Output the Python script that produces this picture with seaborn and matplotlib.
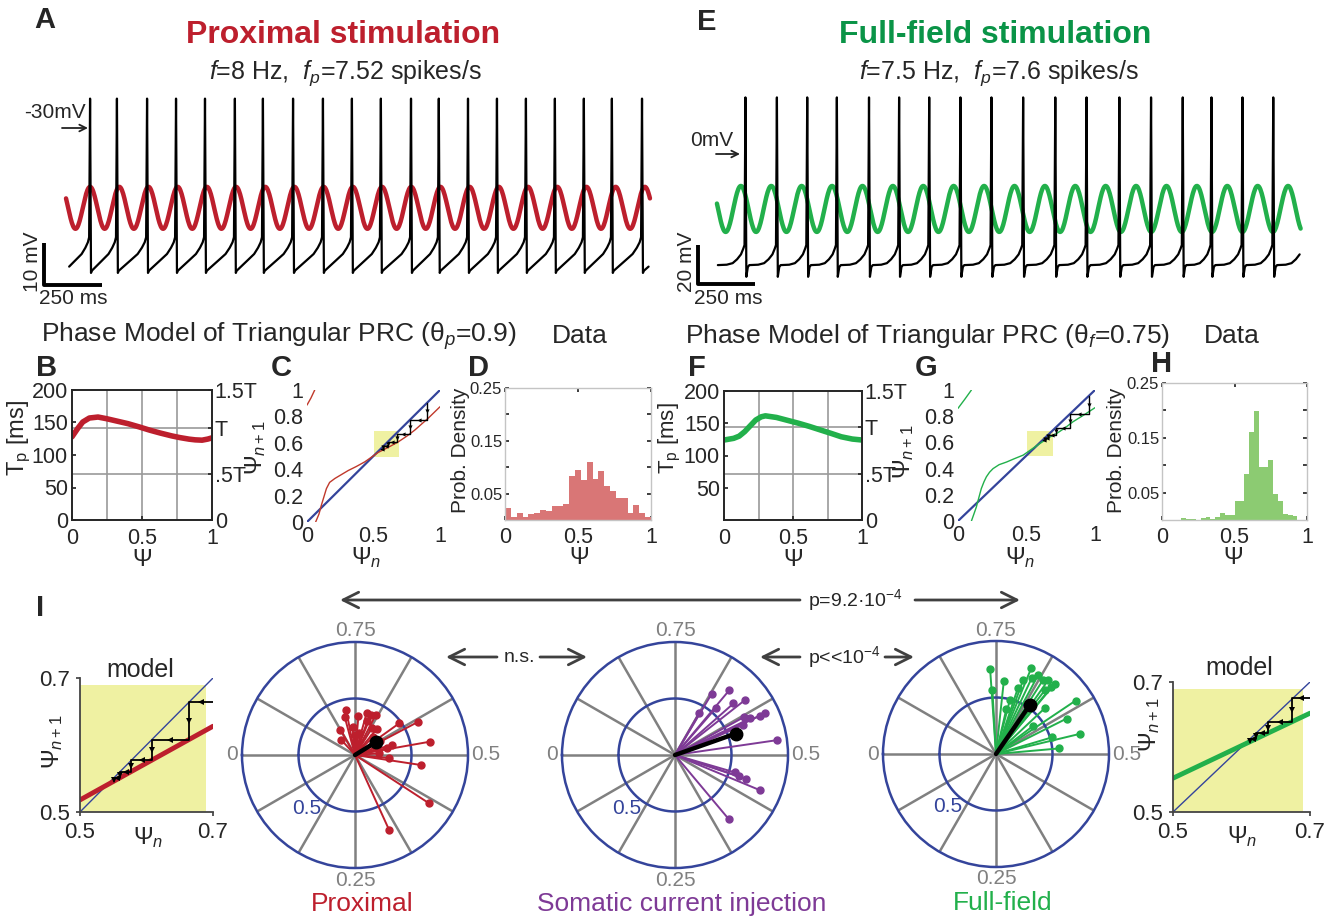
import numpy as np
import pandas as pd
import seaborn as sns
import matplotlib.pyplot as plt
from matplotlib.patches import Rectangle

sns.set_theme(style="white")
plt.rcParams['font.family'] = ['Liberation Sans', 'DejaVu Sans']
plt.rcParams['mathtext.fontset'] = 'custom'
plt.rcParams['mathtext.rm'] = 'Liberation Sans'
plt.rcParams['mathtext.it'] = 'Liberation Sans:italic'
plt.rcParams['mathtext.bf'] = 'Liberation Sans:bold'

RED = '#bd1f2d'
RED_HIST = '#d97676'
GREEN_T = '#0a9447'
GREEN = '#22b04b'
GREEN_HIST = '#8ccb72'
PURPLE = '#7e3a96'
BLUE = '#34449b'
YELLOW = '#eff1a2'
GRAY = '#808080'

# ---- A: proximal stimulation trace (s, mV)
a_spike_t = [0.103, 0.218, 0.347, 0.471, 0.595, 0.723, 0.843, 0.972, 1.100, 1.224,
             1.348, 1.477, 1.596, 1.721, 1.845, 1.969, 2.093, 2.217, 2.337, 2.466]
a_t_end = 2.5
a_peak = -23.0
a_isi_phase = [0.0, 0.03, 0.2, 0.45, 0.7, 0.85, 0.95, 1.0]
a_isi_v = [-64.5, -64.0, -63.0, -61.5, -60.0, -58.5, -57.2, -56.0]
a_stim_f, a_stim_center, a_stim_amp, a_stim_peak = 8.0, -49.0, 5.0, 0.103

# ---- E: full-field stimulation trace
e_spike_t = [0.125, 0.263, 0.396, 0.526, 0.667, 0.799, 0.931, 1.068, 1.204, 1.343,
             1.484, 1.621, 1.765, 1.904, 2.043, 2.169, 2.305, 2.440]
e_t_end = 2.56
e_peak = 29.0
e_isi_phase = [0.0, 0.05, 0.1, 0.4, 0.6, 0.75, 0.88, 0.96, 1.0]
e_isi_v = [-63.0, -58.0, -57.0, -56.8, -56.0, -54.0, -51.5, -48.5, -46.7]
e_stim_f, e_stim_center, e_stim_amp, e_stim_peak = 7.5, -28.2, 11.8, 0.105

# ---- B / F: period vs phase
b_psi = [0.0, 0.04, 0.077, 0.124, 0.186, 0.248, 0.32, 0.40, 0.48, 0.557, 0.63, 0.712, 0.77, 0.836, 0.88, 0.929, 0.97, 1.0]
b_tp = [128, 140.6, 150.8, 156.9, 158.4, 155.8, 152.2, 148.2, 143.2, 138.1, 133.8, 129.4, 126.8, 124.4, 123.3, 122.8, 124.5, 126.4]
b_T = 142
f_psi = [0.0, 0.07, 0.11, 0.15, 0.19, 0.23, 0.27, 0.30, 0.38, 0.46, 0.54, 0.62, 0.70, 0.78, 0.85, 0.93, 1.0]
f_tp = [124, 126.6, 130, 137, 146, 155, 160, 161.5, 159, 154.5, 150, 145, 139.5, 134, 129, 125.5, 124]
f_T = 144

# ---- C / G: return maps
c_main_x = [0.065, 0.09, 0.108, 0.13, 0.146, 0.17, 0.21, 0.26, 0.31, 0.37, 0.435, 0.535, 0.61, 0.686, 0.75, 0.81, 0.91, 1.0]
c_main_y = [0.0, 0.06, 0.127, 0.2, 0.253, 0.30, 0.33, 0.36, 0.39, 0.42, 0.456, 0.527, 0.565, 0.607, 0.65, 0.696, 0.785, 0.873]
c_wrap_x = [0.0, 0.03, 0.058]
c_wrap_y = [0.886, 0.94, 1.0]
c_web_x = [0.905, 0.905, 0.774, 0.774, 0.673, 0.673, 0.608, 0.608, 0.575, 0.575, 0.555]
c_web_y = [0.905, 0.772, 0.772, 0.67, 0.67, 0.608, 0.608, 0.575, 0.575, 0.555, 0.555]
g_main_x = [0.098, 0.115, 0.134, 0.15, 0.17, 0.19, 0.207, 0.23, 0.256, 0.30, 0.354, 0.41, 0.476, 0.54, 0.61, 0.66, 0.72, 0.78, 0.84, 0.92, 1.0]
g_main_y = [0.0, 0.05, 0.107, 0.17, 0.247, 0.30, 0.337, 0.372, 0.40, 0.43, 0.45, 0.475, 0.503, 0.55, 0.60, 0.635, 0.668, 0.71, 0.758, 0.81, 0.865]
g_wrap_x = [0.0, 0.05, 0.098]
g_wrap_y = [0.86, 0.93, 1.0]
g_web_x = [0.956, 0.956, 0.816, 0.816, 0.713, 0.713, 0.66, 0.66, 0.632, 0.632, 0.618]
g_web_y = [0.956, 0.815, 0.815, 0.713, 0.713, 0.66, 0.66, 0.632, 0.632, 0.618, 0.618]
map_box_x, map_box_y = (0.5, 0.695), (0.495, 0.69)
box_lo, box_hi = 0.5, 0.69

# ---- D / H: phase histograms (probability per bin)
d_heights = [0.0225, 0.0056, 0.0138, 0.006, 0.0106, 0.013, 0.019, 0.0175, 0.026, 0.026,
             0.031, 0.083, 0.094, 0.076, 0.110, 0.078, 0.092, 0.065, 0.054, 0.0425,
             0.0425, 0.013, 0.029, 0.014, 0.006]
h_heights = [0, 0, 0, 0, 0.003, 0.002, 0.001, 0, 0.003, 0.0055,
             0.002, 0.0055, 0.013, 0.0097, 0.0097, 0.034, 0.034, 0.084, 0.161, 0.199,
             0.096, 0.096, 0.110, 0.048, 0.034, 0.0115, 0.0097, 0.008, 0, 0]

# ---- I: insets (linearised map near fixed point)
il_x, il_y = [0.5, 0.7], [0.518, 0.628]
il_web_x = [0.7, 0.664, 0.664, 0.608, 0.608, 0.577, 0.577, 0.560, 0.560, 0.551, 0.551]
il_web_y = [0.664, 0.664, 0.608, 0.608, 0.577, 0.577, 0.560, 0.560, 0.551, 0.551, 0.546]
ir_x, ir_y = [0.5, 0.7], [0.552, 0.652]
ir_web_x = [0.7, 0.674, 0.674, 0.639, 0.639, 0.621, 0.621, 0.612, 0.612]
ir_web_y = [0.676, 0.676, 0.639, 0.639, 0.621, 0.621, 0.612, 0.612, 0.608]

# ---- I: polar phase data (phase, vector length)
prox_phase = [0.781, 0.707, 0.674, 0.689, 0.833, 0.867, 0.722, 0.599, 0.577, 0.528, 0.542, 0.533, 0.511, 0.476,
              0.408, 0.318, 0.639, 0.764, 0.625, 0.486, 0.556, 0.792, 0.736, 0.694, 0.66, 0.75, 0.58]
prox_r = [0.41, 0.39, 0.40, 0.38, 0.26, 0.18, 0.20, 0.48, 0.63, 0.67, 0.34, 0.29, 0.21, 0.59,
          0.78, 0.73, 0.30, 0.25, 0.22, 0.30, 0.20, 0.35, 0.35, 0.32, 0.28, 0.18, 0.25]
prox_mean = (0.588, 0.22)
som_phase = [0.664, 0.639, 0.636, 0.667, 0.615, 0.606, 0.569, 0.569, 0.572, 0.566, 0.523, 0.448, 0.4375, 0.361,
             0.449, 0.455, 0.58]
som_r = [0.63, 0.75, 0.55, 0.43, 0.69, 0.79, 0.88, 0.83, 0.74, 0.66, 0.91, 0.66, 0.81, 0.74, 0.60, 0.55, 0.70]
som_mean = (0.554, 0.57)
ff_phase = [0.761, 0.759, 0.733, 0.688, 0.672, 0.652, 0.639, 0.640, 0.694, 0.699, 0.594, 0.574, 0.5375, 0.514,
            0.546, 0.603, 0.714, 0.710, 0.646, 0.66, 0.68, 0.62, 0.655]
ff_r = [0.75, 0.57, 0.65, 0.82, 0.79, 0.80, 0.81, 0.77, 0.70, 0.62, 0.85, 0.70, 0.76, 0.56,
        0.52, 0.41, 0.41, 0.49, 0.71, 0.78, 0.74, 0.60, 0.50]
ff_mean = (0.654, 0.53)

W, H = 1340, 918
fig = plt.figure(figsize=(W / 100, H / 100), dpi=100)


def rect(x0, y0, x1, y1):
    return [x0 / W, 1 - y1 / H, (x1 - x0) / W, (y1 - y0) / H]


ov = fig.add_axes([0, 0, 1, 1], zorder=5)
ov.set_xlim(0, W)
ov.set_ylim(H, 0)
ov.axis('off')
ov.patch.set_alpha(0)


def label(x, y, s, size=15, **kw):
    ov.text(x, y, s, fontsize=size, ha=kw.pop('ha', 'center'), va=kw.pop('va', 'center'), **kw)


def arrow(x0, y0, x1, y1, lw=2, ms=28, color='#404040'):
    ov.annotate('', xy=(x1, y1), xytext=(x0, y0),
                arrowprops=dict(arrowstyle='->', lw=lw, color=color, mutation_scale=ms,
                                shrinkA=0, shrinkB=0))


def cobweb(ax, xs, ys, lw=1.0, ms=3):
    ax.plot(xs, ys, color='black', lw=lw, zorder=4)
    for k in range(len(xs) - 1):
        mx, my = (xs[k] + xs[k + 1]) / 2, (ys[k] + ys[k + 1]) / 2
        m = '<' if ys[k] == ys[k + 1] else 'v'
        ax.plot([mx], [my], marker=m, color='black', ms=ms, mew=0, zorder=4)


def spike_train(spikes, t_end, peak, phase, shape):
    marks = [spikes[0] - (spikes[1] - spikes[0])] + list(spikes) + [spikes[-1] + (spikes[-1] - spikes[-2])]
    t, v = [], []
    for k in range(len(marks) - 1):
        s0, s1 = marks[k], marks[k + 1]
        for p, val in zip(phase, shape):
            tt = s0 + 0.004 + p * (s1 - s0 - 0.008)
            if 0 <= tt <= t_end:
                t.append(tt)
                v.append(val)
        if k + 1 < len(marks) - 1:
            t.append(s1)
            v.append(peak)
    return t, v


def trace_panel(r, xlim, ylim, spikes, t_end, peak, phase, shape, f, c, a, tp, col, bar):
    ax = fig.add_axes(r)
    ts = np.linspace(0, t_end, 900)
    vs = c + a * np.cos(2 * np.pi * f * (ts - tp))
    sns.lineplot(x=ts, y=vs, ax=ax, color=col, lw=3.2, sort=False, estimator=None)
    t, v = spike_train(spikes, t_end, peak, phase, shape)
    sns.lineplot(x=t, y=v, ax=ax, color='black', lw=1.6, sort=False, estimator=None)
    bx, by, bh = bar
    ax.plot([bx, bx, bx + 0.25], [by + bh, by, by], color='black', lw=2.8, solid_capstyle='butt')
    ax.set_xlim(*xlim)
    ax.set_ylim(*ylim)
    ax.axis('off')


trace_panel(rect(20, 90, 660, 300), (-0.197, 2.543), (-70.95, -20.95), a_spike_t, a_t_end, a_peak,
            a_isi_phase, a_isi_v, a_stim_f, a_stim_center, a_stim_amp, a_stim_peak, RED, (-0.094, -67.4, 10))
trace_panel(rect(680, 90, 1320, 300), (-0.162, 2.645), (-74.9, 32.8), e_spike_t, e_t_end, e_peak,
            e_isi_phase, e_isi_v, e_stim_f, e_stim_center, e_stim_amp, e_stim_peak, GREEN, (-0.083, -66.7, 20))

# texts row 1
label(45, 20, 'A', 21, weight='bold')
label(343, 35, 'Proximal stimulation', 23, weight='bold', color=RED)
label(345, 73, r'$\it{f}$=8 Hz,  $\it{f}_{p}$=7.52 spikes/s', 18)
label(707, 22, 'E', 21, weight='bold')
label(995, 35, 'Full-field stimulation', 23, weight='bold', color=GREEN_T)
label(999, 73, r'$\it{f}$=7.5 Hz,  $\it{f}_{p}$=7.6 spikes/s', 18)
label(55, 112, '-30mV', 15)
arrow(62, 128, 88, 128, lw=1.3, ms=12, color='#222222')
label(33, 262, '10 mV', 15, rotation=90)
label(73, 298, '250 ms', 15)
label(712, 141, '0mV', 15)
arrow(716, 154, 740, 154, lw=1.3, ms=12, color='#222222')
label(686, 262, '20 mV', 15, rotation=90)
label(728, 298, '250 ms', 15)

# row 2 titles
label(41, 336, r'Phase Model of Triangular PRC (θ$_p$=0.9)', 19, ha='left')
label(580, 336, 'Data', 19)
label(685, 336, r'Phase Model of Triangular PRC (θ$_f$=0.75)', 19, ha='left')
label(1232, 336, 'Data', 19)
for x, y, s in [(47, 368, 'B'), (281, 368, 'C'), (478, 368, 'D'), (697, 368, 'F'), (926, 368, 'G'), (1162, 364, 'H')]:
    label(x, y, s, 21, weight='bold')


def period_panel(r, psi, tp, T, col, yticks):
    ax = fig.add_axes(r)
    for g in [0.25, 0.5, 0.75]:
        ax.axvline(g, color='#9a9a9a', lw=1.2, zorder=0)
    for g in [T, T / 2]:
        ax.axhline(g, color='#9a9a9a', lw=1.2, zorder=0)
    sns.lineplot(x=psi, y=tp, ax=ax, color=col, lw=4, sort=False, estimator=None)
    ax.set_xlim(0, 1)
    ax.set_ylim(0, 200)
    ax.set_xticks([0, 0.5, 1])
    ax.set_xticklabels(['0', '0.5', '1'])
    ax.set_yticks(yticks)
    ax.tick_params(labelsize=15.5, direction='in', length=3, pad=3, left=True, bottom=True)
    ax.tick_params(axis='x', pad=6)
    for s in ax.spines.values():
        s.set_color('#222222')
        s.set_linewidth(1.2)
    ax2 = ax.twinx()
    ax2.set_ylim(0, 200)
    ax2.set_yticks([0, T / 2, T, 200])
    ax2.set_yticklabels(['0', '.5T', 'T', '1.5T'])
    ax2.tick_params(labelsize=15.5, direction='in', length=3, pad=2, right=True)
    ax2.grid(False)


period_panel(rect(72, 390, 212, 520), b_psi, b_tp, b_T, RED, [0, 50, 100, 150, 200])
period_panel(rect(724, 391, 862, 520), f_psi, f_tp, f_T, GREEN, [50, 100, 150, 200])
label(19, 438, r'T$_\mathrm{p}$ [ms]', 17, rotation=90)
label(142, 560, r'$\Psi$', 17)
label(670, 438, r'T$_\mathrm{p}$ [ms]', 16, rotation=90)
label(793, 560, r'$\Psi$', 17)


def map_panel(r, mx, my, wx, wy, webx, weby, col):
    ax = fig.add_axes(r)
    ax.add_patch(Rectangle((map_box_x[0], map_box_y[0]), map_box_x[1] - map_box_x[0],
                           map_box_y[1] - map_box_y[0], color=YELLOW, lw=0, zorder=0))
    sns.lineplot(x=[0, 1], y=[0, 1], ax=ax, color=BLUE, lw=1.6, estimator=None)
    sns.lineplot(x=mx, y=my, ax=ax, color=col, lw=1.0, sort=False, estimator=None)
    sns.lineplot(x=wx, y=wy, ax=ax, color=col, lw=1.0, sort=False, estimator=None)
    cobweb(ax, webx, weby, lw=1.0, ms=3)
    ax.set_xlim(0, 1)
    ax.set_ylim(0, 1)
    ax.set_xticks([0, 0.5, 1])
    ax.set_xticklabels(['0', '0.5', '1'])
    ax.set_yticks([0, 0.2, 0.4, 0.6, 0.8, 1])
    ax.set_yticklabels(['0', '0.2', '0.4', '0.6', '0.8', '1'])
    ax.tick_params(labelsize=15.5, length=0, pad=3)
    for s in ax.spines.values():
        s.set_visible(False)


map_panel(rect(307, 390, 440, 522), c_main_x, c_main_y, c_wrap_x, c_wrap_y, c_web_x, c_web_y, '#c0392b')
map_panel(rect(958, 390, 1095, 521), g_main_x, g_main_y, g_wrap_x, g_wrap_y, g_web_x, g_web_y, GREEN)
label(256, 448, r'$\Psi_{n+1}$', 17, rotation=90)
label(366, 558, r'$\Psi_{n}$', 17)
label(904, 452, r'$\Psi_{n+1}$', 17, rotation=90)
label(1020, 558, r'$\Psi_{n}$', 17)


def hist_panel(r, heights, col):
    ax = fig.add_axes(r)
    n = len(heights)
    edges = np.linspace(0, 1, n + 1)
    df = pd.DataFrame({'psi': (edges[:-1] + edges[1:]) / 2, 'p': heights})
    sns.histplot(data=df, x='psi', weights='p', bins=n, binrange=(0, 1), ax=ax,
                 color=col, alpha=1, linewidth=0)
    ax.set_xlim(0, 1)
    ax.set_ylim(0, 0.25)
    ax.set_ylabel('')
    ax.set_xlabel('')
    ax.set_xticks([0, 0.5, 1])
    ax.set_xticklabels(['0', '0.5', '1'])
    ax.set_yticks([0.05, 0.1, 0.15, 0.2, 0.25])
    ax.set_yticklabels(['0.05', '', '0.15', '', '0.25'])
    ax.tick_params(axis='y', labelsize=12, direction='in', length=3, pad=2, left=True, right=True)
    ax.tick_params(axis='x', labelsize=15.5, direction='in', length=3, pad=5, bottom=True, top=True)
    for s in ax.spines.values():
        s.set_color('#c4c4c4')
        s.set_linewidth(1.0)


hist_panel(rect(505, 388, 651, 520), d_heights, RED_HIST)
hist_panel(rect(1162, 383, 1307, 520), h_heights, GREEN_HIST)
label(460, 450, 'Prob. Density', 15, rotation=90)
label(579, 558, r'$\Psi$', 17)
label(1117, 450, 'Prob. Density', 15, rotation=90)
label(1233, 558, r'$\Psi$', 17)


# ---- I
def inset_panel(r, lx, ly, webx, weby, col):
    ax = fig.add_axes(r)
    ax.add_patch(Rectangle((box_lo, box_lo), box_hi - box_lo, box_hi - box_lo, color=YELLOW, lw=0, zorder=0))
    sns.lineplot(x=[0.5, 0.7], y=[0.5, 0.7], ax=ax, color=BLUE, lw=1.0, estimator=None)
    sns.lineplot(x=lx, y=ly, ax=ax, color=col, lw=3.5, estimator=None)
    cobweb(ax, webx, weby, lw=1.3, ms=4)
    ax.set_xlim(0.5, 0.7)
    ax.set_ylim(0.5, 0.7)
    ax.set_xticks([0.5, 0.7])
    ax.set_yticks([0.5, 0.7])
    ax.set_xticklabels(['0.5', '0.7'])
    ax.set_yticklabels(['0.5', '0.7'])
    ax.tick_params(labelsize=16, length=3, pad=4, left=True, bottom=True, color='#444444')
    ax.spines['top'].set_visible(False)
    ax.spines['right'].set_visible(False)
    for s in ['left', 'bottom']:
        ax.spines[s].set_color('#444444')
        ax.spines[s].set_linewidth(1.3)


inset_panel(rect(80, 678, 213, 812), il_x, il_y, il_web_x, il_web_y, RED)
inset_panel(rect(1173, 682, 1310, 812), ir_x, ir_y, ir_web_x, ir_web_y, GREEN)
label(40, 608, 'I', 21, weight='bold')
label(140, 670, 'model', 18)
label(1239, 668, 'model', 18)
label(53, 742, r'$\Psi_{n+1}$', 17, rotation=90)
label(148, 838, r'$\Psi_{n}$', 17)
label(1150, 725, r'$\Psi_{n+1}$', 17, rotation=90)
label(1242, 837, r'$\Psi_{n}$', 17)


def polar_panel(cx, cy, phases, rs, mean, col, name):
    R = 113
    ax = fig.add_axes(rect(cx - R, cy - R, cx + R, cy + R), projection='polar')
    ax.set_theta_offset(np.pi)
    ax.set_ylim(0, 1)
    ax.set_xticks([])
    ax.set_yticks([])
    ax.grid(False)
    ax.spines['polar'].set_color(BLUE)
    ax.spines['polar'].set_linewidth(1.8)
    for k in range(12):
        ax.plot([k * np.pi / 6] * 2, [0, 1], color=GRAY, lw=1.8, zorder=1)
    ring = np.linspace(0, 2 * np.pi, 300)
    ax.plot(ring, np.full_like(ring, 0.5), color=BLUE, lw=1.8, zorder=1)
    for p, r in zip(phases, rs):
        th = 2 * np.pi * p
        ax.plot([th, th], [0, r], color=col, lw=1.4, zorder=2)
        ax.plot([th], [r], 'o', color=col, ms=5, zorder=3)
    th = 2 * np.pi * mean[0]
    ax.plot([th, th], [0, mean[1]], color='black', lw=3.2, zorder=4)
    ax.plot([th], [mean[1]], 'o', color='black', ms=9, zorder=5)
    label(cx, cy - 124, '0.75', 15, color=GRAY)
    label(cx, cy + 125, '0.25', 15, color=GRAY)
    label(cx - 123, cy, '0', 15, color=GRAY)
    label(cx + 131, cy, '0.5', 15, color=GRAY)
    label(cx - 48, cy + 53, '0.5', 15, color=BLUE)
    label(cx + 7, cy + 149, name, 19, color=col)


polar_panel(355, 755, prox_phase, prox_r, prox_mean, RED, 'Proximal')
polar_panel(675, 755, som_phase, som_r, som_mean, PURPLE, 'Somatic current injection')
polar_panel(996, 754, ff_phase, ff_r, ff_mean, GREEN, 'Full-field')

# significance arrows
arrow(800, 600, 340, 600)
arrow(915, 600, 1020, 600)
label(855, 600, r'p=9.2·10$^{-4}$', 14)
arrow(497, 657, 446, 657)
arrow(540, 657, 587, 657)
label(519, 657, 'n.s.', 14)
arrow(800, 657, 760, 657)
arrow(885, 657, 914, 657)
label(844, 657, r'p<<10$^{-4}$', 14)

fig.savefig('out.png', dpi=100)
